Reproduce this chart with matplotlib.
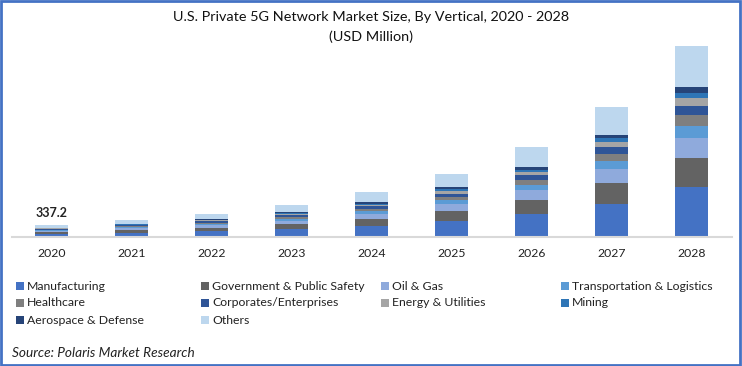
import matplotlib
matplotlib.use("Agg")
import matplotlib.pyplot as plt
import matplotlib.patches as mpatches
import numpy as np

# Market size by vertical, USD million
years = ["2020", "2021", "2022", "2023", "2024", "2025", "2026", "2027", "2028"]
verticals = [
    "Manufacturing", "Government & Public Safety", "Oil & Gas", "Transportation & Logistics",
    "Healthcare", "Corporates/Enterprises", "Energy & Utilities", "Mining",
    "Aerospace & Defense", "Others",
]
manufacturing = [88, 122, 165, 228, 309, 450, 646, 927, 1397]
government = [52, 74, 100, 138, 188, 273, 393, 590, 843]
oil_gas = [37, 53, 72, 100, 141, 197, 281, 393, 562]
transportation = [20, 29, 40, 58, 84, 121, 141, 225, 337]
healthcare = [18, 26, 34, 46, 62, 76, 141, 197, 309]
corporates = [17, 25, 34, 48, 79, 93, 141, 197, 253]
energy = [12, 18, 24, 34, 48, 76, 84, 141, 225]
mining = [10, 14, 19, 25, 28, 56, 76, 121, 141]
aerospace = [11, 15, 21, 28, 37, 65, 84, 76, 169]
others = [72.2, 102, 137, 194, 281, 357, 542, 787, 1132]
label_2020 = "337.2"

series = [manufacturing, government, oil_gas, transportation, healthcare,
          corporates, energy, mining, aerospace, others]
colors = ["#4472C4", "#636363", "#8FAADC", "#5B9BD5", "#7F7F7F",
          "#2F5597", "#A5A5A5", "#2E75B6", "#264478", "#BDD7EE"]

plt.rcParams["font.family"] = ["Lato", "DejaVu Sans"]

fig = plt.figure(figsize=(7.42, 3.66), dpi=100)
ax = fig.add_axes([0.016, 0.352, 0.970, 0.544])

x = np.arange(len(years))
bottom = np.zeros(len(years))
for vals, col in zip(series, colors):
    ax.bar(x, vals, width=0.41, bottom=bottom, color=col, linewidth=0)
    bottom += np.array(vals)

ax.text(x[0], bottom[0] + 160, label_2020, ha="center", va="bottom",
        fontsize=9, fontweight="bold", color="#222222")

ax.set_xlim(-0.5, len(years) - 0.5)
ax.set_ylim(0, 5600)
ax.set_xticks(x)
ax.set_xticklabels(years, fontsize=8.8, color="#222222")
ax.tick_params(axis="x", length=0, pad=8)
ax.set_yticks([])
for s in ["top", "right", "left"]:
    ax.spines[s].set_visible(False)
ax.spines["bottom"].set_color("#D9D9D9")
ax.spines["bottom"].set_linewidth(1.5)

fig.text(0.5, 1 - 17 / 366, "U.S. Private 5G Network Market Size, By Vertical, 2020 - 2028",
         ha="center", va="center", fontsize=10.4, color="#111111")
fig.text(0.5, 1 - 37 / 366, "(USD Million)", ha="center", va="center",
         fontsize=10.4, color="#111111")

# legend laid out on a 4-column grid like the original
col_x = [20, 205, 385, 565]
row_y = [286, 303, 320]
for i, (name, col) in enumerate(zip(verticals, colors)):
    cx = col_x[i % 4]
    cy = row_y[i // 4]
    fig.patches.append(mpatches.Rectangle(((cx - 4) / 742, 1 - (cy + 4) / 366), 8 / 742, 8 / 366,
                                          transform=fig.transFigure, color=col, linewidth=0))
    fig.text((cx + 7) / 742, 1 - cy / 366, name, ha="left", va="center",
             fontsize=8.8, color="#222222")

fig.text(12 / 742, 1 - 353 / 366, "Source: Polaris Market Research", ha="left", va="center",
         fontsize=9.8, style="italic", color="#222222")

fig.patches.append(mpatches.Rectangle((0.002, 0.004), 0.995, 0.992, transform=fig.transFigure,
                                      fill=False, edgecolor="#4472C4", linewidth=2))

fig.savefig("out.png", dpi=100, facecolor="white")
